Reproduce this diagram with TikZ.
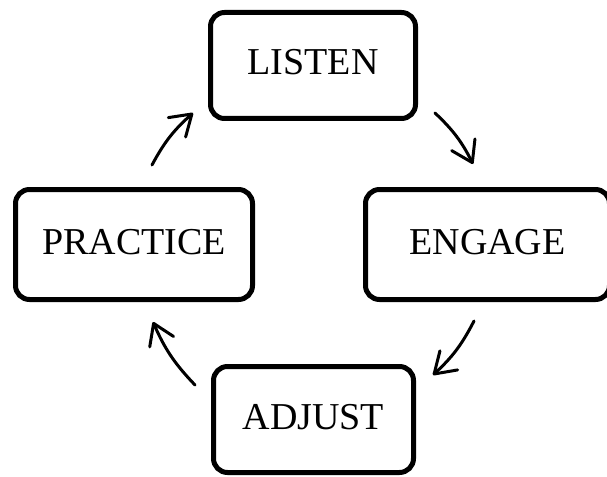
\documentclass[tikz,border=0pt]{standalone}
\usepackage{fontspec}
\setmainfont{Liberation Serif}
\usetikzlibrary{arrows.meta}
\begin{document}
\begin{tikzpicture}[x=1pt,y=-1pt,
  stagebox/.style={draw=black, line width=5pt, rounded corners=14pt,
    inner sep=0pt, font=\fontsize{38pt}{40pt}\selectfont,
    text height=25pt, text depth=6pt},
  cyclearrow/.style={line width=3pt, line cap=round,
    -{Straight Barb[length=20pt, width=26pt, line cap=round, line join=round]},
    bend left=10}]
\useasboundingbox (0,0) rectangle (607,476);
\clip (0,0) rectangle (607,476);

% the four stages of the cycle
\node[stagebox, minimum width=205pt, minimum height=106pt] (listen)   at (313,65.5)  {LISTEN};
\node[stagebox, minimum width=237pt, minimum height=110pt] (practice) at (134,244.5) {PRACTICE};
\node[stagebox, minimum width=244pt, minimum height=110pt] (engage)   at (487.5,244.5) {ENGAGE};
\node[stagebox, minimum width=200pt, minimum height=106pt] (adjust)   at (313.5,419.5) {ADJUST};

% arrow ends in the gaps between the stages
\coordinate (pl-start) at (152,165);
\coordinate (pl-end)   at (193,113);
\coordinate (le-start) at (435,113);
\coordinate (le-end)   at (473,164);
\coordinate (ea-start) at (474,321);
\coordinate (ea-end)   at (433,375);
\coordinate (ap-start) at (195,385);
\coordinate (ap-end)   at (153,322);

\draw[cyclearrow] (pl-start) to (pl-end);
\draw[cyclearrow] (le-start) to (le-end);
\draw[cyclearrow] (ea-start) to (ea-end);
\draw[cyclearrow] (ap-start) to (ap-end);
\end{tikzpicture}
\end{document}
